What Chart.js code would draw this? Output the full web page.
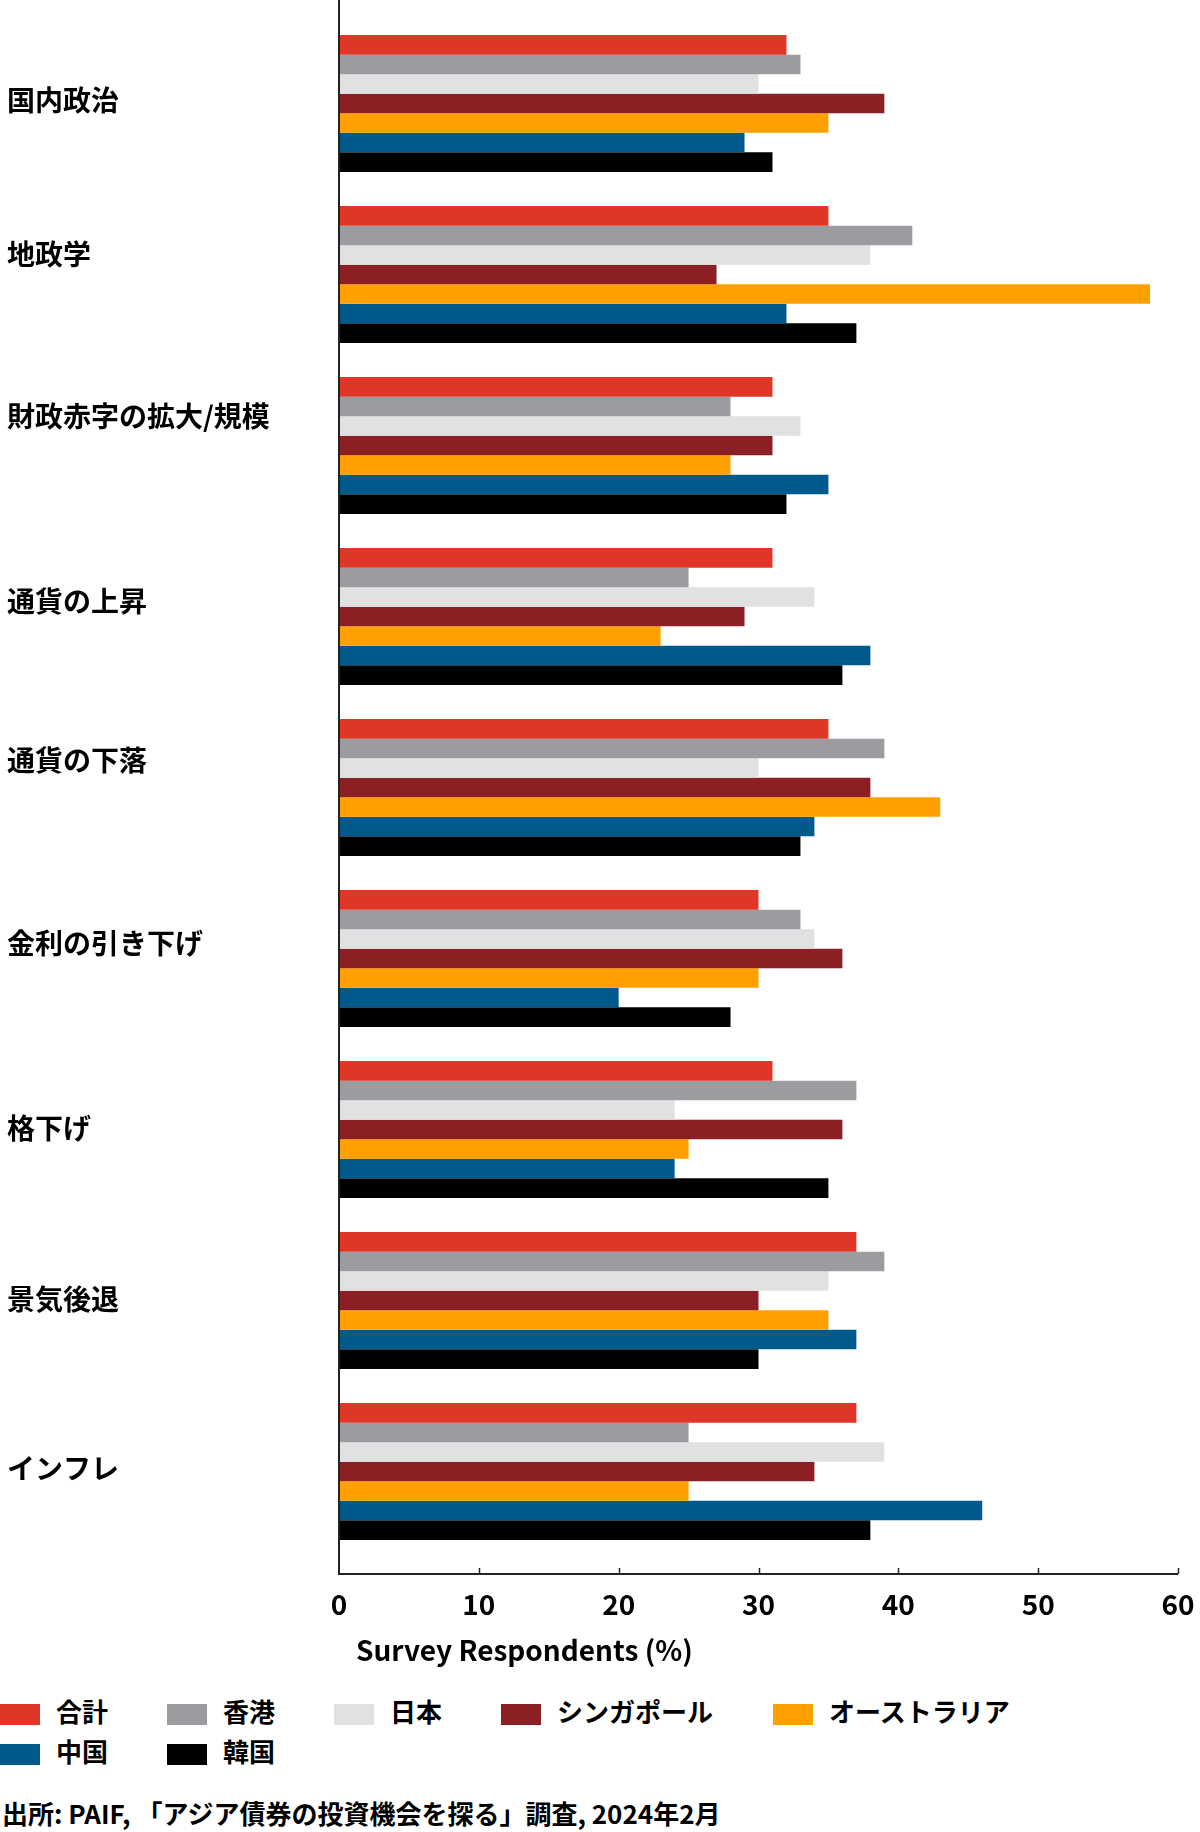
<!DOCTYPE html>
<html>
<head>
<meta charset="utf-8">
<script src="https://cdn.jsdelivr.net/npm/chart.js@4"></script>
<style>
  body { margin: 0; background: #fff; font-family: "Noto Sans CJK JP", sans-serif; font-weight: bold; }
  #wrap { position: relative; width: 1200px; height: 1832px; }
  #box { position: absolute; left: 0; top: 0; width: 1200px; height: 1680px; }
  .leg { position: absolute; font-size: 26px; line-height: 30px; color: #000; white-space: nowrap; }
  .leg i { display: inline-block; width: 40px; height: 21px; vertical-align: -3px; margin-right: 16px; }
  #src { position: absolute; left: 2px; top: 1796px; font-size: 26px; line-height: 34px; }
</style>
</head>
<body>
<div id="wrap">
  <div id="box"><canvas id="myChart"></canvas></div>
  <div id="legend"></div>
  <div id="src">出所: PAIF, 「アジア債券の投資機会を探る」調査, 2024年2月</div>
</div>
<script>
// categories (top to bottom)
var categories = ["国内政治", "地政学", "財政赤字の拡大/規模", "通貨の上昇", "通貨の下落",
  "金利の引き下げ", "格下げ", "景気後退", "インフレ"];

// series names and colours
var seriesNames = ["合計", "香港", "日本", "シンガポール", "オーストラリア", "中国", "韓国"];
var seriesColors = ["#df3627", "#9b9c9f", "#e0e1e3", "#8b1f23", "#ffa000", "#005a8c", "#000000"];

// values per series, in category order (%)
var total     = [32, 35, 31, 31, 35, 30, 31, 37, 37];
var hongKong  = [33, 41, 28, 25, 39, 33, 37, 39, 25];
var japan     = [30, 38, 33, 34, 30, 34, 24, 35, 39];
var singapore = [39, 27, 31, 29, 38, 36, 36, 30, 34];
var australia = [35, 58, 28, 23, 43, 30, 25, 35, 25];
var china     = [29, 32, 35, 38, 34, 20, 24, 37, 46];
var korea     = [31, 37, 32, 36, 33, 28, 35, 30, 38];

var xTicks = [0, 10, 20, 30, 40, 50, 60];
var xTitle = "Survey Respondents (%)";

var seriesValues = [total, hongKong, japan, singapore, australia, china, korea];

var datasets = seriesNames.map(function (name, i) {
  return {
    label: name,
    data: seriesValues[i],
    backgroundColor: seriesColors[i],
    borderWidth: 0,
    categoryPercentage: 0.8,
    barPercentage: 1.0,
  };
});

// category labels sit a little above their bar group in the original (px)
var labelShift = [-3, -20, -29, -15, -27, -15, -1, -1, -3];

// axis lines, tick marks, category labels and axis title
var axisPlugin = {
  id: "axisLines",
  afterDraw: function (chart) {
    var ctx = chart.ctx;
    var area = chart.chartArea;
    var xs = chart.scales.x;
    var ys = chart.scales.y;
    var baseY = area.bottom + 17;
    ctx.save();
    ctx.strokeStyle = "#222";
    ctx.lineWidth = 2;
    ctx.beginPath();
    ctx.moveTo(area.left, 0);
    ctx.lineTo(area.left, baseY);
    ctx.lineTo(xs.getPixelForValue(60), baseY);
    ctx.stroke();
    ctx.lineWidth = 1.5;
    xTicks.forEach(function (t) {
      if (t === 0) return;
      var px = Math.round(xs.getPixelForValue(t)) + 0.5;
      ctx.beginPath();
      ctx.moveTo(px, baseY);
      ctx.lineTo(px, baseY - 6);
      ctx.stroke();
    });
    ctx.fillStyle = "#000";
    ctx.font = "bold 28px 'Noto Sans CJK JP'";
    ctx.textBaseline = "middle";
    ctx.textAlign = "left";
    categories.forEach(function (c, i) {
      ctx.fillText(c, 7, ys.getPixelForValue(i) + labelShift[i]);
    });
    ctx.fillText(xTitle, 356, 1650);
    ctx.restore();
  },
};

const ctx = document.getElementById("myChart");
const myChart = new Chart(ctx, {
  type: "bar",
  data: {
    labels: categories,
    datasets: datasets,
  },
  options: {
    indexAxis: "y",
    responsive: true,
    maintainAspectRatio: false,
    animation: false,
    layout: {
      padding: { top: 18, right: 0, left: 7, bottom: 0 },
    },
    scales: {
      x: {
        min: 0,
        max: 60,
        afterBuildTicks: function (scale) {
          scale.ticks = xTicks.map(function (v) { return { value: v }; });
        },
        afterFit: function (scale) {
          scale.height = 1680 - 1557;
          scale.paddingRight = 22;
        },
        grid: { display: false, drawTicks: false },
        border: { display: false },
        ticks: {
          padding: 31,
          color: "#000",
          maxRotation: 0,
          font: { size: 28, weight: "bold", family: "'Noto Sans CJK JP'" },
        },
      },
      y: {
        afterFit: function (scale) {
          scale.width = 332;
          scale.paddingTop = 0;
          scale.paddingBottom = 0;
        },
        grid: { display: false },
        border: { display: false },
        ticks: { display: false },
      },
    },
    plugins: {
      legend: { display: false },
      tooltip: { enabled: false },
    },
  },
  plugins: [axisPlugin],
});

// legend built from the series arrays
var legendPos = [[0, 1696], [167, 1696], [334, 1696], [501, 1696], [773, 1696], [0, 1736], [167, 1736]];
var legend = document.getElementById("legend");
seriesNames.forEach(function (name, i) {
  var d = document.createElement("div");
  d.className = "leg";
  d.style.left = legendPos[i][0] + "px";
  d.style.top = legendPos[i][1] + "px";
  d.innerHTML = '<i style="background:' + seriesColors[i] + '"></i>' + name;
  legend.appendChild(d);
});
</script>
</body>
</html>
